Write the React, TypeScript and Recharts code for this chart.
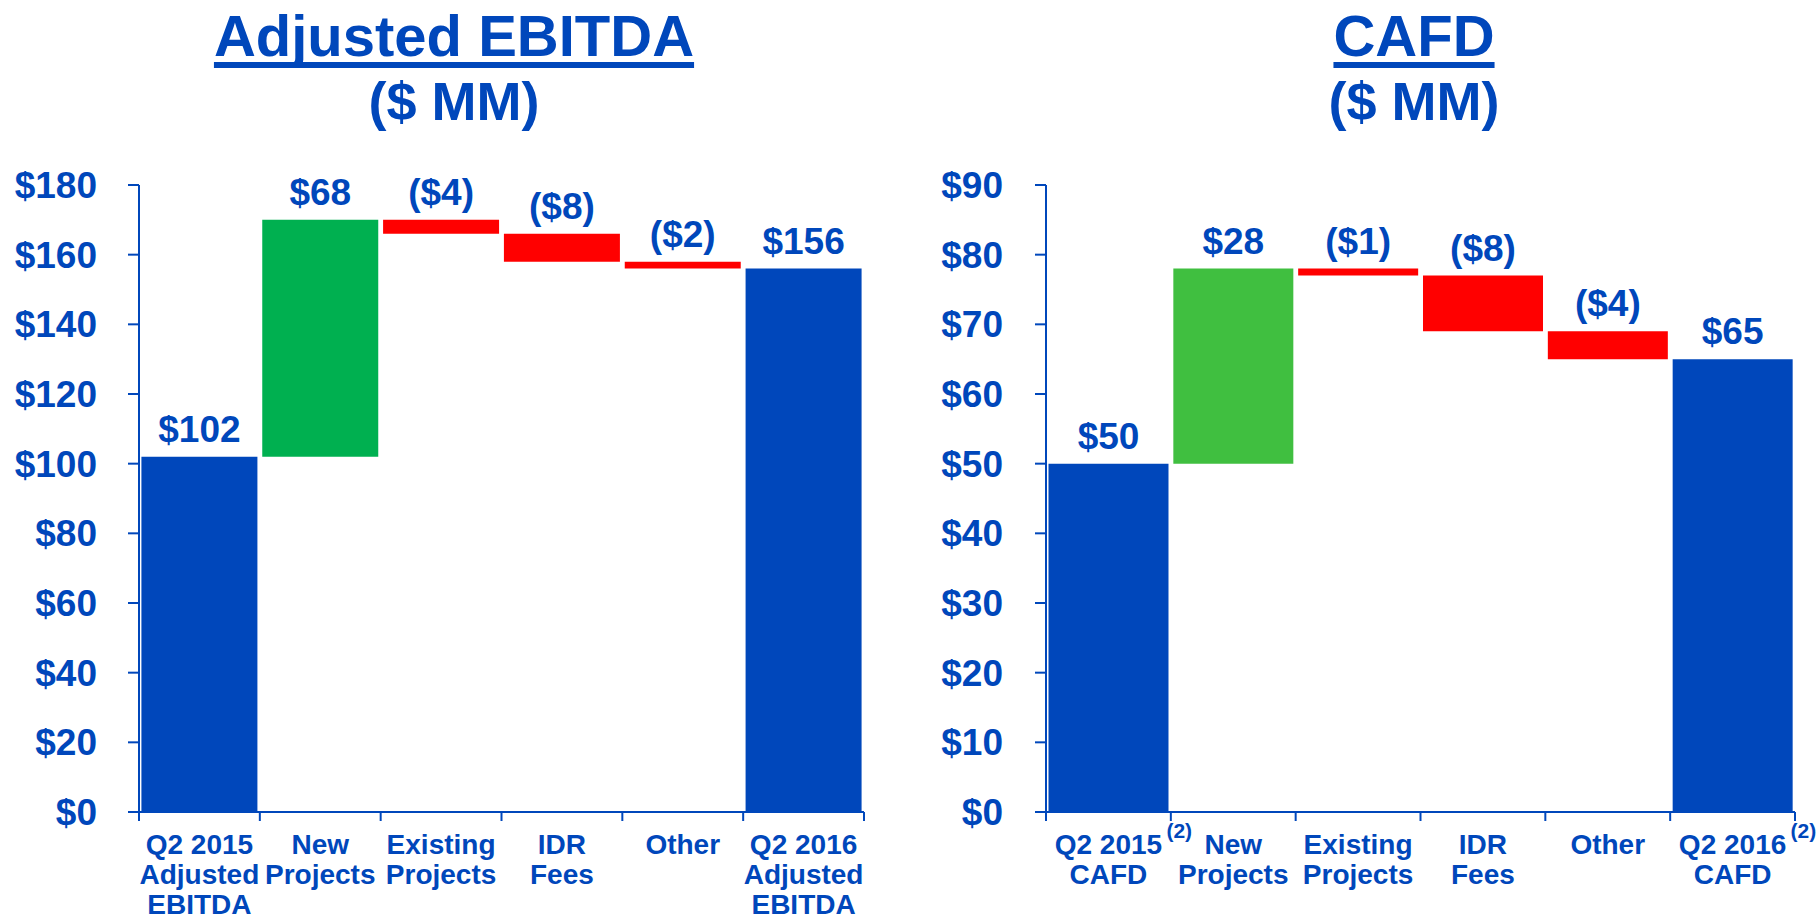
import { Bar, BarChart, Cell, LabelList, XAxis, YAxis } from "recharts";

const BLUE = "#0047BB";
const RED = "#FF0000";
const FONT = '"Liberation Sans", Arial, Helvetica, sans-serif';

// Adjusted EBITDA bridge ($ MM)
const ebitdaCategories = [
  "Q2 2015\nAdjusted\nEBITDA",
  "New\nProjects",
  "Existing\nProjects",
  "IDR\nFees",
  "Other",
  "Q2 2016\nAdjusted\nEBITDA",
];
const ebitdaStart = 102;
const ebitdaChanges = [68, -4, -8, -2];
const ebitdaEnd = 156;
const ebitdaTicks = [0, 20, 40, 60, 80, 100, 120, 140, 160, 180];

// CAFD bridge ($ MM)
const cafdCategories = [
  "Q2 2015\nCAFD",
  "New\nProjects",
  "Existing\nProjects",
  "IDR\nFees",
  "Other",
  "Q2 2016\nCAFD",
];
const cafdNotes = ["(2)", "", "", "", "", "(2)"];
const cafdStart = 50;
const cafdChanges = [28, -1, -8, -4];
const cafdEnd = 65;
const cafdTicks = [0, 10, 20, 30, 40, 50, 60, 70, 80, 90];

type Kind = "total" | "up" | "down";

type Row = {
  name: string;
  range: [number, number];
  label: string;
  kind: Kind;
};

const CHART_W = 909;
const CHART_H = 920;
const PLOT_TOP = 185;
const PLOT_BOTTOM = 812;

function money(v: number) {
  return v < 0 ? `($${Math.abs(v)})` : `$${v}`;
}

function buildRows(
  categories: string[],
  start: number,
  changes: number[],
  end: number
): Row[] {
  const rows: Row[] = [
    { name: categories[0], range: [0, start], label: money(start), kind: "total" },
  ];
  let level = start;
  changes.forEach((change, i) => {
    const next = level + change;
    rows.push({
      name: categories[i + 1],
      range: [Math.min(level, next), Math.max(level, next)],
      label: money(change),
      kind: change < 0 ? "down" : "up",
    });
    level = next;
  });
  rows.push({
    name: categories[categories.length - 1],
    range: [0, end],
    label: money(end),
    kind: "total",
  });
  return rows;
}

function CategoryTick(props: any) {
  const { x, payload, index, band, last, notes } = props;
  const cx = Number(x);
  const lines = String(payload.value).split("\n");
  const note = notes ? notes[index] : "";
  const edge = { stroke: BLUE, strokeWidth: 2 };

  return (
    <g>
      <line
        x1={cx - band / 2}
        x2={cx - band / 2}
        y1={PLOT_BOTTOM}
        y2={PLOT_BOTTOM + 9}
        {...edge}
      />
      {index === last && (
        <line
          x1={cx + band / 2}
          x2={cx + band / 2}
          y1={PLOT_BOTTOM}
          y2={PLOT_BOTTOM + 9}
          {...edge}
        />
      )}
      <text
        textAnchor="middle"
        fill={BLUE}
        fontSize={28}
        fontWeight={700}
        fontFamily={FONT}
      >
        {lines.map((line, i) => (
          <tspan key={i} x={cx} y={PLOT_BOTTOM + 42 + i * 30}>
            {line}
          </tspan>
        ))}
      </text>
      {note && (
        <text
          x={cx + 58}
          y={PLOT_BOTTOM + 26}
          fill={BLUE}
          fontSize={21}
          fontWeight={700}
          fontFamily={FONT}
        >
          {note}
        </text>
      )}
    </g>
  );
}

type BridgeProps = {
  rows: Row[];
  ticks: number[];
  upColor: string;
  notes?: string[];
  plotLeft: number;
  plotRight: number;
  tickMargin: number;
};

function Bridge({ rows, ticks, upColor, notes, plotLeft, plotRight, tickMargin }: BridgeProps) {
  const band = (plotRight - plotLeft) / rows.length;
  const colors: Record<Kind, string> = { total: BLUE, up: upColor, down: RED };

  return (
    <BarChart
      width={CHART_W}
      height={CHART_H}
      data={rows}
      margin={{ top: PLOT_TOP, right: CHART_W - plotRight, bottom: 0, left: 0 }}
      barCategoryGap="2%"
    >
      <YAxis
        type="number"
        domain={[0, ticks[ticks.length - 1]]}
        ticks={ticks}
        interval={0}
        width={plotLeft}
        tickSize={11}
        tickMargin={tickMargin}
        axisLine={{ stroke: BLUE, strokeWidth: 2 }}
        tickLine={{ stroke: BLUE, strokeWidth: 2 }}
        tick={{ fill: BLUE, fontSize: 37, fontWeight: 700, fontFamily: FONT }}
        tickFormatter={(v) => `$${v}`}
      />
      <XAxis
        dataKey="name"
        height={CHART_H - PLOT_BOTTOM}
        interval={0}
        axisLine={{ stroke: BLUE, strokeWidth: 2 }}
        tickLine={false}
        tick={(p: any) => (
          <CategoryTick {...p} band={band} last={rows.length - 1} notes={notes} />
        )}
      />
      <Bar dataKey="range" isAnimationActive={false}>
        {rows.map((r, i) => (
          <Cell key={i} fill={colors[r.kind]} />
        ))}
        <LabelList
          dataKey="label"
          position="top"
          offset={15}
          fill={BLUE}
          fontSize={37}
          fontWeight={700}
          fontFamily={FONT}
        />
      </Bar>
    </BarChart>
  );
}

function Heading({ center, title }: { center: number; title: string }) {
  const box = {
    position: "absolute" as const,
    left: center - 300,
    width: 600,
    textAlign: "center" as const,
    color: BLUE,
    fontFamily: FONT,
    fontWeight: 700,
    lineHeight: 1,
  };
  return (
    <>
      <div
        style={{
          ...box,
          top: 7,
          fontSize: 58,
          textDecoration: "underline",
          textDecorationThickness: "6px",
          textUnderlineOffset: "6px",
          textDecorationSkipInk: "none",
        }}
      >
        {title}
      </div>
      <div style={{ ...box, top: 74, fontSize: 54 }}>($ MM)</div>
    </>
  );
}

export default function App() {
  const ebitdaRows = buildRows(ebitdaCategories, ebitdaStart, ebitdaChanges, ebitdaEnd);
  const cafdRows = buildRows(cafdCategories, cafdStart, cafdChanges, cafdEnd);

  return (
    <div
      style={{
        position: "absolute",
        left: 0,
        top: 0,
        width: 1818,
        height: 920,
        background: "#ffffff",
        overflow: "hidden",
      }}
    >
      <div style={{ position: "absolute", left: 0, top: 0 }}>
        <Bridge
          rows={ebitdaRows}
          ticks={ebitdaTicks}
          upColor="#00B050"
          plotLeft={139}
          plotRight={864}
          tickMargin={31}
        />
      </div>
      <div style={{ position: "absolute", left: 909, top: 0 }}>
        <Bridge
          rows={cafdRows}
          ticks={cafdTicks}
          upColor="#40BF40"
          notes={cafdNotes}
          plotLeft={137}
          plotRight={886}
          tickMargin={32}
        />
      </div>
      <Heading center={454} title="Adjusted EBITDA" />
      <Heading center={1414} title="CAFD" />
    </div>
  );
}
